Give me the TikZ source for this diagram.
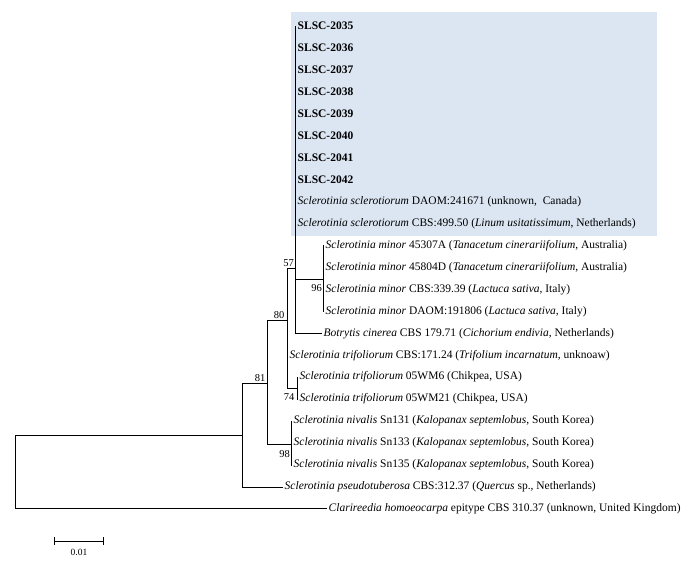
\documentclass[tikz,border=0pt]{standalone}
\usepackage{fontspec}
\setmainfont{Liberation Serif}
\usetikzlibrary{positioning, arrows.meta}
\definecolor{cladeblue}{HTML}{DCE6F2}
\newcommand{\taxon}[1]{\textit{#1}}
\newcommand{\leaffont}{\fontsize{11.5}{13}\selectfont}
\tikzset{
  leaf/.style={anchor=west, inner sep=1.5pt, font=\leaffont},
  boot/.style={inner sep=1pt, font=\fontsize{10.5}{12}\selectfont},
  branch/.style={line width=0.8pt},
}

\begin{document}
\begin{tikzpicture}[x=1pt,y=-1pt]
\useasboundingbox (0,0) rectangle (692,566);

% shaded clade
\fill[cladeblue] (291,12) rectangle (657,236);

% leaves: isolates of this study
\foreach \i/\code in {1/2035,2/2036,3/2037,4/2038,5/2039,6/2040,7/2041,8/2042}
\node[leaf, font=\leaffont\bfseries] (l\i) at (296,{4+21.95*\i}) {SLSC-\code};

% leaves: reference strains
\node[leaf] (l9) at (296,{4+21.95*9}) {\taxon{Sclerotinia sclerotiorum} DAOM:241671 (unknown,\ \ Canada)};
\node[leaf] (l10) at (296,{4+21.95*10}) {\taxon{Sclerotinia sclerotiorum} CBS:499.50 (\taxon{Linum usitatissimum}, Netherlands)};
\node[leaf] (l11) at (324,{4+21.95*11}) {\taxon{Sclerotinia minor} 45307A (\taxon{Tanacetum cinerariifolium}, Australia)};
\node[leaf] (l12) at (324,{4+21.95*12}) {\taxon{Sclerotinia minor} 45804D (\taxon{Tanacetum cinerariifolium}, Australia)};
\node[leaf] (l13) at (324,{4+21.95*13}) {\taxon{Sclerotinia minor} CBS:339.39 (\taxon{Lactuca sativa}, Italy)};
\node[leaf] (l14) at (324,{4+21.95*14}) {\taxon{Sclerotinia minor} DAOM:191806 (\taxon{Lactuca sativa}, Italy)};
\node[leaf] (l15) at (322,{4+21.95*15}) {\taxon{Botrytis cinerea} CBS 179.71 (\taxon{Cichorium endivia}, Netherlands)};
\node[leaf] (l16) at (288,{4+21.95*16}) {\taxon{Sclerotinia trifoliorum} CBS:171.24 (\taxon{Trifolium incarnatum}, unknoaw)};
\node[leaf] (l17) at (298,{4+21.95*17}) {\taxon{Sclerotinia trifoliorum} 05WM6 (Chikpea, USA)};
\node[leaf] (l18) at (298,{4+21.95*18}) {\taxon{Sclerotinia trifoliorum} 05WM21 (Chikpea, USA)};
\foreach \i/\code in {19/Sn131,20/Sn133,21/Sn135}
\node[leaf] (l\i) at (292,{4+21.95*\i}) {\taxon{Sclerotinia nivalis} \code\ (\taxon{Kalopanax septemlobus}, South Korea)};
\node[leaf] (l22) at (283,{4+21.95*22}) {\taxon{Sclerotinia pseudotuberosa} CBS:312.37 (\taxon{Quercus} sp., Netherlands)};
\node[leaf] (l23) at (327,{4+21.95*23}) {\taxon{Clarireedia homoeocarpa} epitype CBS 310.37 (unknown, United Kingdom)};

% internal nodes
\coordinate (nS) at (295,125);
\coordinate (nM) at (323,279);
\coordinate (nD) at (295,268);
\coordinate (nC) at (287,320);
\coordinate (nT) at (297,388);
\coordinate (nN) at (291,444);
\coordinate (nB) at (267,383);
\coordinate (nA) at (242,435);
\coordinate (nR) at (15,472);

% branches
\begin{scope}[branch]
\foreach \i in {1,...,10}
\draw (nS) |- (l\i.west);
\draw (nD) -- (nS);
\draw (nD) |- (nM);
\draw (nD) |- (l15.west);
\foreach \i in {11,...,14}
\draw (nM) |- (l\i.west);
\draw (nC) |- (nD);
\draw (nC) |- (l16.west);
\draw (nC) |- (nT);
\draw (nT) |- (l17.west);
\draw (nT) |- (l18.west);
\draw (nB) |- (nC);
\draw (nB) |- (nN);
\foreach \i in {19,...,21}
\draw (nN) |- (l\i.west);
\draw (nA) |- (nB);
\draw (nA) |- (l22.west);
\draw (nR) |- (nA);
\draw (nR) |- (l23.west);
\end{scope}

% bootstrap values
\node[boot, above left=0pt and 0pt of nD] (b57) {57};
\node[boot, above left=0pt and 1.5pt of nC] (b80) {80};
\node[boot, above left=0pt and 0.5pt of nB] (b81) {81};
\node[boot, below left=4pt and 0pt of nM] (b96) {96};
\node[boot, below left=4pt and 1.5pt of nT] (b74) {74};
\node[boot, below left=5pt and 0pt of nN] (b98) {98};

% scale bar
\coordinate (sb1) at (54,541);
\coordinate (sb2) at (104,541);
\draw[branch, {Bar[width=8pt]}-{Bar[width=8pt]}] (sb1) -- (sb2)
  node[boot, midway, below=7pt, font=\fontsize{9.5}{11}\selectfont] (sbl) {0.01};
\end{tikzpicture}
\end{document}
